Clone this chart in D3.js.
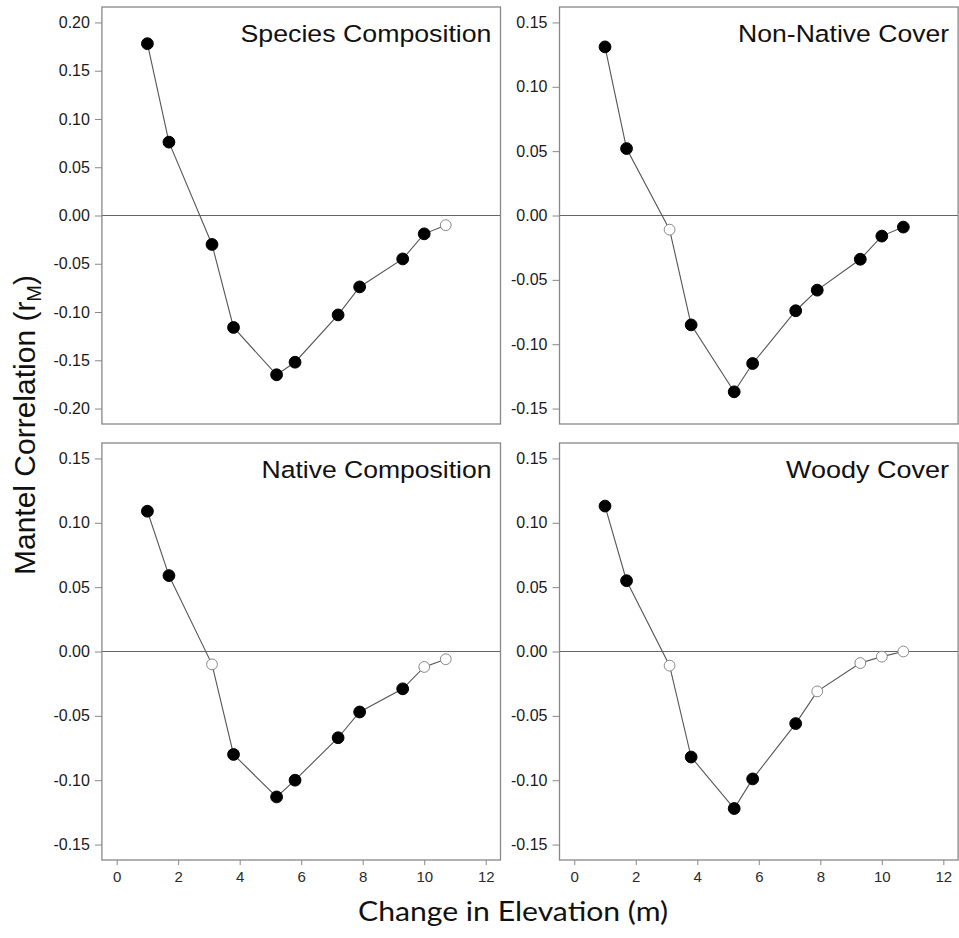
<!DOCTYPE html>
<html>
<head>
<meta charset="utf-8">
<script src="https://cdn.jsdelivr.net/npm/d3@7"></script>
<style>
  body { margin: 0; background: #fff; }
  svg { display: block; font-family: "Liberation Sans", Arial, sans-serif; }
</style>
</head>
<body>
<svg id="chart" width="959" height="938"></svg>
<script>
// distance classes (change in elevation, m)
const elevation = [1.0, 1.7, 3.1, 3.8, 5.2, 5.8, 7.2, 7.9, 9.3, 10.0, 10.7];

// Mantel correlation per distance class, and whether it was significant (1 = filled dot)
const speciesComposition = [0.178, 0.076, -0.030, -0.116, -0.165, -0.152, -0.103, -0.074, -0.045, -0.019, -0.010];
const speciesSig         = [1, 1, 1, 1, 1, 1, 1, 1, 1, 1, 0];
const nonNativeCover     = [0.131, 0.052, -0.011, -0.085, -0.137, -0.115, -0.074, -0.058, -0.034, -0.016, -0.009];
const nonNativeSig       = [1, 1, 0, 1, 1, 1, 1, 1, 1, 1, 1];
const nativeComposition  = [0.109, 0.059, -0.010, -0.080, -0.113, -0.100, -0.067, -0.047, -0.029, -0.012, -0.006];
const nativeSig          = [1, 1, 0, 1, 1, 1, 1, 1, 1, 0, 0];
const woodyCover         = [0.113, 0.055, -0.011, -0.082, -0.122, -0.099, -0.056, -0.031, -0.009, -0.004, 0.000];
const woodySig           = [1, 1, 0, 1, 1, 1, 1, 0, 0, 0, 0];

const titles = ["Species Composition", "Non-Native Cover", "Native Composition", "Woody Cover"];
const xTicks = [0, 2, 4, 6, 8, 10, 12];
const yTicksWide = [0.20, 0.15, 0.10, 0.05, 0.00, -0.05, -0.10, -0.15, -0.20];
const yTicksNarrow = [0.15, 0.10, 0.05, 0.00, -0.05, -0.10, -0.15];

const svg = d3.select("#chart");

// R style: limits padded by 4%
function pad(lo, hi) { const d = (hi - lo) * 0.04; return [lo - d, hi + d]; }

const panelW = 398.6, panelH = 417;
const panels = [
  { title: titles[0], vals: speciesComposition, sig: speciesSig, ticks: yTicksWide, lim: 0.20, left: 101.9, top: 7, titleW: 251, xaxis: false },
  { title: titles[1], vals: nonNativeCover, sig: nonNativeSig, ticks: yTicksNarrow, lim: 0.15, left: 559.5, top: 7, titleW: 211, xaxis: false },
  { title: titles[2], vals: nativeComposition, sig: nativeSig, ticks: yTicksNarrow, lim: 0.15, left: 101.9, top: 443, titleW: 230, xaxis: true },
  { title: titles[3], vals: woodyCover, sig: woodySig, ticks: yTicksNarrow, lim: 0.15, left: 559.5, top: 443, titleW: 163, xaxis: true }
];

panels.forEach(function(p) {
  const x = d3.scaleLinear().domain(pad(0, 12)).range([0, panelW]);
  const y = d3.scaleLinear().domain(pad(-p.lim, p.lim)).range([panelH, 0]);
  const g = svg.append("g").attr("transform", "translate(" + p.left + "," + p.top + ")");

  // zero line
  g.append("line")
    .attr("x1", 0).attr("x2", panelW)
    .attr("y1", y(0)).attr("y2", y(0))
    .attr("stroke", "#666").attr("stroke-width", 1.2);

  // y axis
  const ya = g.append("g")
    .call(d3.axisLeft(y).tickValues(p.ticks).tickSize(7).tickPadding(5)
      .tickFormat(function(d) { return d.toFixed(2); }));
  ya.select(".domain").remove();
  ya.selectAll(".tick line").attr("stroke", "#888");
  ya.selectAll(".tick text").attr("fill", "#1a1a1a").style("font-size", "16px")
    .style("font-family", "'Liberation Sans', Arial, sans-serif");

  // x axis (bottom row only)
  if (p.xaxis) {
    const xa = g.append("g").attr("transform", "translate(0," + panelH + ")")
      .call(d3.axisBottom(x).tickValues(xTicks).tickSize(5).tickPadding(6));
    xa.select(".domain").remove();
    xa.selectAll(".tick line").attr("stroke", "#888");
    xa.selectAll(".tick text").attr("fill", "#2a2a2a").style("font-size", "15px")
      .style("font-family", "'Liberation Sans Narrow', 'Liberation Sans', Arial, sans-serif");
  }

  // connecting line
  const pts = elevation.map(function(e, i) { return { x: e, y: p.vals[i], s: p.sig[i] }; });
  g.append("path")
    .datum(pts)
    .attr("fill", "none").attr("stroke", "#555").attr("stroke-width", 1.1)
    .attr("d", d3.line().x(function(d) { return x(d.x); }).y(function(d) { return y(d.y); }));

  // points
  g.selectAll("circle")
    .data(pts)
    .enter()
    .append("circle")
      .attr("cx", function(d) { return x(d.x); })
      .attr("cy", function(d) { return y(d.y); })
      .attr("r", function(d) { return d.s ? 5.9 : 5.4; })
      .attr("fill", function(d) { return d.s ? "#000" : "#fff"; })
      .attr("stroke", function(d) { return d.s ? "#000" : "#888"; })
      .attr("stroke-width", 1);

  // box
  g.append("rect")
    .attr("width", panelW).attr("height", panelH)
    .attr("fill", "none").attr("stroke", "#888").attr("stroke-width", 1.3);

  // panel title
  g.append("text")
    .attr("x", panelW - 9).attr("y", 35)
    .attr("text-anchor", "end")
    .attr("textLength", p.titleW).attr("lengthAdjust", "spacingAndGlyphs")
    .style("font-size", "24.5px").attr("fill", "#111")
    .text(p.title);
});

// y title
const yt = svg.append("text")
  .attr("transform", "translate(35,425) rotate(-90)")
  .attr("text-anchor", "middle")
  .style("font-size", "30px").attr("fill", "#111");
yt.append("tspan").text("Mantel Correlation (r");
yt.append("tspan").attr("dy", 6).style("font-size", "20px").text("M");
yt.append("tspan").attr("dy", -6).text(")");

// x title
svg.append("text")
  .attr("x", 513).attr("y", 920.7)
  .attr("text-anchor", "middle")
  .attr("textLength", 310).attr("lengthAdjust", "spacingAndGlyphs")
  .style("font-family", "Lato, 'Open Sans', sans-serif")
  .style("font-size", "27px").attr("fill", "#111")
  .text("Change in Elevation (m)");
</script>
</body>
</html>
